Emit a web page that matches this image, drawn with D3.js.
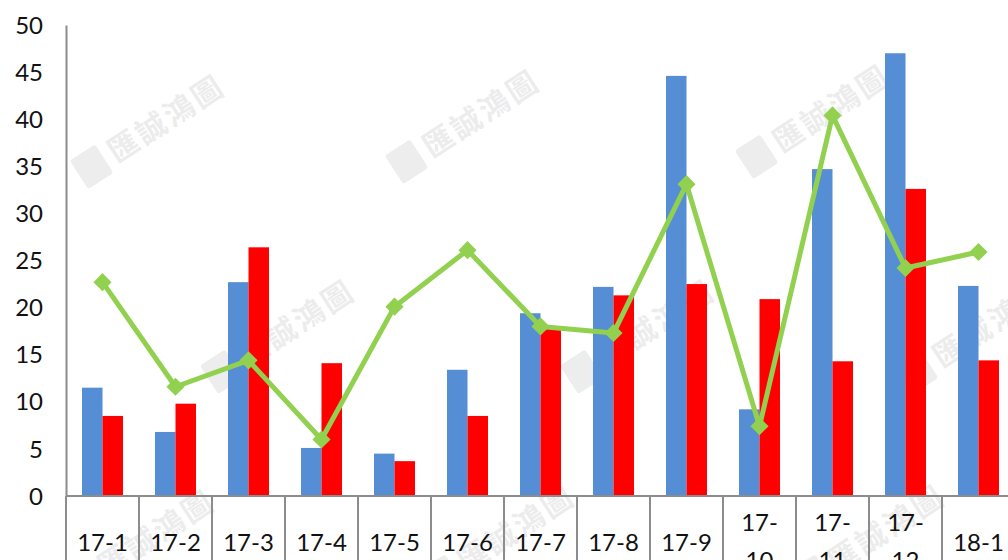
<!DOCTYPE html>
<html>
<head>
<meta charset="utf-8">
<script src="https://cdn.jsdelivr.net/npm/d3@7"></script>
<style>
  html, body { margin: 0; padding: 0; background: #fff; overflow: hidden; }
  svg { display: block; }
</style>
</head>
<body>
<svg id="chart" width="1008" height="560"></svg>
<script>
// Monthly figures, Jan 2017 – Jan 2018
const categories = ["17-1","17-2","17-3","17-4","17-5","17-6","17-7","17-8","17-9","17-10","17-11","17-12","18-1"];
const seriesBlue = [11.5, 6.8, 22.7, 5.1, 4.5, 13.4, 19.4, 22.2, 44.6, 9.2, 34.7, 47.0, 22.3];
const seriesRed  = [8.5, 9.8, 26.4, 14.1, 3.7, 8.5, 17.9, 21.3, 22.5, 20.9, 14.3, 32.6, 14.4];
const seriesLine = [22.7, 11.6, 14.4, 6.0, 20.1, 26.1, 18.0, 17.3, 33.1, 7.4, 40.4, 24.2, 25.9];
const yTicks = [0, 5, 10, 15, 20, 25, 30, 35, 40, 45, 50];
const watermark = "匯誠鴻圖";

const svg = d3.select("#chart");
const font = "'Lato', 'Open Sans', sans-serif";
const axisColor = "#8c8c8c";

const plotLeft = 66, plotTop = 25, plotBottom = 496, step = 73;
const x = d3.scaleBand().domain(categories).range([plotLeft, plotLeft + step * categories.length]).paddingInner(0).paddingOuter(0);
const xs = d3.scaleBand().domain(["blue", "red"]).range([0, x.bandwidth()]).paddingInner(0).paddingOuter(0.78);
const y = d3.scaleLinear().domain([0, 50]).range([plotBottom, plotTop]);

// faint watermark stamps
const wmSpots = [[150,130],[465,125],[815,120],[280,335],[640,335],[975,335],[140,545],[500,540],[870,540]];
const wm = svg.append("g").attr("pointer-events", "none");
wmSpots.forEach(([cx, cy]) => {
  const g = wm.append("g").attr("transform", `translate(${cx},${cy}) rotate(-33)`);
  g.append("rect").attr("x", -84).attr("y", -18).attr("width", 30).attr("height", 34).attr("rx", 3)
    .attr("fill", "#000").attr("opacity", 0.07);
  g.append("text").attr("x", -46).attr("y", 10).attr("font-size", 30)
    .attr("font-family", "'Noto Sans CJK TC', sans-serif").attr("font-weight", 700)
    .attr("fill", "#000").attr("opacity", 0.07).attr("letter-spacing", 3).text(watermark);
});

// bars
const bars = svg.append("g");
const groups = bars.selectAll("g").data(categories).join("g")
  .attr("transform", d => `translate(${x(d)},0)`);
groups.append("rect")
  .attr("x", xs("blue")).attr("width", xs.bandwidth())
  .attr("y", (d, i) => y(seriesBlue[i])).attr("height", (d, i) => y(0) - y(seriesBlue[i]))
  .attr("fill", "#558ed5");
groups.append("rect")
  .attr("x", xs("red")).attr("width", xs.bandwidth())
  .attr("y", (d, i) => y(seriesRed[i])).attr("height", (d, i) => y(0) - y(seriesRed[i]))
  .attr("fill", "#ff0000");

// y axis
const yAxis = svg.append("g").attr("transform", `translate(${plotLeft},0)`)
  .call(d3.axisLeft(y).tickValues(yTicks).tickSize(0).tickPadding(23));
yAxis.select(".domain").attr("stroke", axisColor).attr("stroke-width", 2);
yAxis.selectAll("text").attr("font-family", font).attr("font-size", 24).attr("fill", "#111").attr("dy", "0.34em");

// x axis with boxed category cells
const xAxis = svg.append("g").attr("transform", `translate(0,${plotBottom})`)
  .call(d3.axisBottom(x).tickSize(0).tickSizeOuter(0));
xAxis.select(".domain").remove();
xAxis.append("line").attr("x1", plotLeft).attr("x2", 1008).attr("y1", 0).attr("y2", 0)
  .attr("stroke", axisColor).attr("stroke-width", 2);
xAxis.selectAll(".sep").data(categories).join("line").attr("class", "sep")
  .attr("x1", d => x(d)).attr("x2", d => x(d)).attr("y1", 0).attr("y2", 70)
  .attr("stroke", axisColor).attr("stroke-width", 2);
xAxis.selectAll(".tick text").each(function(d) {
  const t = d3.select(this).attr("font-family", font).attr("font-size", 24).attr("fill", "#111").attr("dy", null).text(null);
  if (d.length > 4) {
    const parts = [d.slice(0, 3), d.slice(3)];
    t.attr("y", 35);
    parts.forEach((p, k) => t.append("tspan").attr("x", 0).attr("dy", k === 0 ? 0 : 38).text(p));
  } else {
    t.attr("y", 55).text(d);
  }
});

// line series with diamond markers
const cx = d => x(d) + x.bandwidth() / 2;
const line = d3.line().x((v, i) => cx(categories[i])).y(v => y(v));
svg.append("path").datum(seriesLine).attr("d", line)
  .attr("fill", "none").attr("stroke", "#92d050").attr("stroke-width", 5).attr("stroke-linejoin", "round");
svg.append("g").selectAll("path").data(seriesLine).join("path")
  .attr("d", d3.symbol().type(d3.symbolDiamond2).size(210))
  .attr("transform", (v, i) => `translate(${cx(categories[i])},${y(v)})`)
  .attr("fill", "#92d050");
</script>
</body>
</html>
